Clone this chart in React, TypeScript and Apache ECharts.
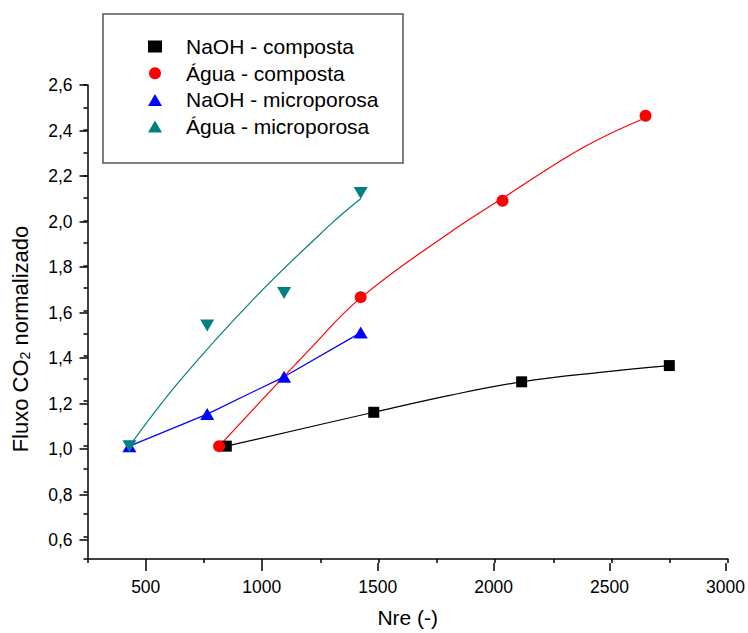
import React, { useEffect, useRef } from "react";
import * as echarts from "echarts";

// ---- data ----
const naohCompostaX = [846, 1479, 2114, 2748];
const naohCompostaY = [1.0, 1.15, 1.285, 1.357];
const aguaCompostaX = [815, 1423, 2032, 2646];
const aguaCompostaY = [1.0, 1.66, 2.087, 2.464];
const naohMicroX = [430, 764, 1094, 1423];
const naohMicroY = [1.0, 1.142, 1.307, 1.503];
const aguaMicroX = [430, 764, 1094, 1423];
const aguaMicroY = [1.0, 1.535, 1.679, 2.122];

// fitted curves as drawn in the reference
const naohCompostaFitX = [846, 1479, 1805, 2114, 2450, 2748];
const naohCompostaFitY = [1.0, 1.15, 1.225, 1.285, 1.327, 1.357];
const aguaCompostaFitX = [815, 1205, 1423, 1806, 2035, 2378, 2646];
const aguaCompostaFitY = [1.0, 1.43, 1.657, 1.947, 2.1, 2.323, 2.455];
const aguaMicroFitX = [430, 645, 968, 1290, 1423];
const aguaMicroFitY = [1.0, 1.288, 1.657, 1.979, 2.096];

const seriesNames = [
  "NaOH - composta",
  "Água - composta",
  "NaOH - microporosa",
  "Água - microporosa",
];

const xMin = 250, xMax = 3000, xMinor = 250, xMajorMin = 500, xMajor = 500;
const yMin = 0.5, yMax = 2.6, yMinor = 0.1, yMajorMin = 0.6, yMajor = 0.2;

const zip = (xs: number[], ys: number[]) => xs.map((x, i) => [x, ys[i]]);

const FONT = "'Liberation Sans', Arial, sans-serif";

export default function App() {
  const ref = useRef<HTMLDivElement>(null);
  useEffect(() => {
    if (!ref.current) return;
    const chart = echarts.init(ref.current, undefined, { renderer: "svg" });

    const gLeft = 87.5, gTop = 85, gWidth = 640.5, gHeight = 478;
    const dxPix = ((xMajorMin - xMin) / (xMax - xMin)) * gWidth;
    const dyPix = ((yMajorMin - yMin) / (yMax - yMin)) * gHeight;

    const fmt = (v: number) => v.toFixed(1).replace(".", ",");
    const black = "#000";

    chart.setOption({
      animation: false,
      backgroundColor: "#fff",
      textStyle: { fontFamily: FONT },
      grid: [
        { left: gLeft, top: gTop, width: gWidth, height: gHeight },
        { left: gLeft + dxPix, top: gTop, width: gWidth - dxPix, height: gHeight - dyPix },
      ],
      xAxis: [
        {
          type: "value", gridIndex: 0, min: xMin, max: xMax, interval: xMinor,
          axisLine: { show: true, onZero: false, lineStyle: { color: black, width: 1.5 } },
          axisTick: { show: true, length: 4, lineStyle: { color: black, width: 1.5 } },
          axisLabel: { show: false },
          splitLine: { show: false },
          name: "Nre (-)", nameLocation: "middle", nameGap: 48,
          nameTextStyle: { fontSize: 21, color: black, fontFamily: FONT },
        },
        {
          type: "value", gridIndex: 1, min: xMajorMin, max: xMax, interval: xMajor,
          offset: dyPix,
          axisLine: { show: false, onZero: false },
          axisTick: { show: true, length: 8, lineStyle: { color: black, width: 1.5 } },
          axisLabel: {
            show: true, fontSize: 17.5, color: black, margin: 15, fontFamily: FONT,
            formatter: (v: number) => String(Math.round(v)),
          },
          splitLine: { show: false },
        },
      ],
      yAxis: [
        {
          type: "value", gridIndex: 0, min: yMin, max: yMax, interval: yMinor,
          axisLine: { show: true, onZero: false, lineStyle: { color: black, width: 1.5 } },
          axisTick: { show: true, length: 4, lineStyle: { color: black, width: 1.5 } },
          axisLabel: { show: false },
          splitLine: { show: false },
          name: "{a|Fluxo CO}{s|2}{a| normalizado}",
          nameLocation: "middle", nameGap: 56, nameRotate: 90,
          nameTextStyle: {
            color: black, fontFamily: FONT, padding: [0, 34, 0, 0],
            rich: {
              a: { fontSize: 22, color: black, fontFamily: FONT },
              s: { fontSize: 14, color: black, fontFamily: FONT, verticalAlign: "bottom", padding: [9, 0, 0, 0] },
            },
          },
        },
        {
          type: "value", gridIndex: 1, min: yMajorMin, max: yMax, interval: yMajor,
          offset: dxPix,
          axisLine: { show: false, onZero: false },
          axisTick: { show: true, length: 8, lineStyle: { color: black, width: 1.5 } },
          axisLabel: { show: true, fontSize: 17.5, color: black, margin: 15, fontFamily: FONT, formatter: fmt },
          splitLine: { show: false },
        },
      ],
      legend: {
        data: seriesNames,
        orient: "vertical",
        left: 148, top: 36,
        itemWidth: 14, itemHeight: 12, itemGap: 5.7,
        padding: 0,
        selectedMode: false,
        textStyle: { fontSize: 21, color: black, fontFamily: FONT, padding: [0, 0, 0, 19] },
      },
      graphic: [
        {
          type: "rect",
          shape: { x: 103, y: 14, width: 300, height: 149 },
          style: { fill: "none", stroke: "#555", lineWidth: 1.5 },
          z: 10,
        },
      ],
      series: [
        // fitted / connecting lines
        {
          type: "line", name: "fit1", data: zip(naohCompostaFitX, naohCompostaFitY),
          smooth: 0.4, showSymbol: false, lineStyle: { color: "#000", width: 1.2 }, z: 2, silent: true,
        },
        {
          type: "line", name: "fit2", data: zip(aguaCompostaFitX, aguaCompostaFitY),
          smooth: 0.4, showSymbol: false, lineStyle: { color: "#ff0000", width: 1.2 }, z: 2, silent: true,
        },
        {
          type: "line", name: "fit3", data: zip(naohMicroX, naohMicroY),
          smooth: false, showSymbol: false, lineStyle: { color: "#0000ff", width: 1.2 }, z: 2, silent: true,
        },
        {
          type: "line", name: "fit4", data: zip(aguaMicroFitX, aguaMicroFitY),
          smooth: 0.4, showSymbol: false, lineStyle: { color: "#008080", width: 1.2 }, z: 2, silent: true,
        },
        // markers
        {
          type: "scatter", name: seriesNames[0], data: zip(naohCompostaX, naohCompostaY),
          symbol: "rect", symbolSize: 11, itemStyle: { color: "#000", opacity: 1 }, z: 4,
        },
        {
          type: "scatter", name: seriesNames[1], data: zip(aguaCompostaX, aguaCompostaY),
          symbol: "circle", symbolSize: 12, itemStyle: { color: "#ff0000", opacity: 1 }, z: 4,
        },
        {
          type: "scatter", name: seriesNames[2], data: zip(naohMicroX, naohMicroY),
          symbol: "triangle", symbolSize: [14, 12], itemStyle: { color: "#0000ff", opacity: 1 }, z: 4,
        },
        {
          type: "scatter", name: seriesNames[3], data: zip(aguaMicroX, aguaMicroY),
          symbol: "triangle", symbolRotate: 180, symbolSize: [14, 12], itemStyle: { color: "#008080", opacity: 1 }, z: 4,
        },
      ],
    });
    return () => chart.dispose();
  }, []);
  return (
    <div
      ref={ref}
      style={{ position: "absolute", left: 0, top: 0, width: 748, height: 633 }}
    />
  );
}
